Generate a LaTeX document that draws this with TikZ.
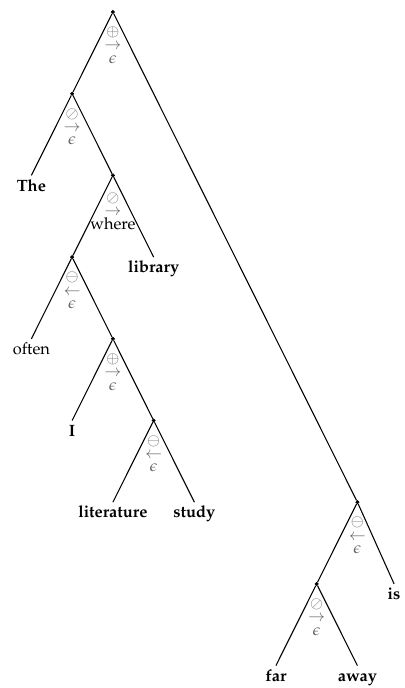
\documentclass[tikz,border=0pt]{standalone}
\usepackage[T1]{fontenc}
\usepackage{mathpazo}
\usepackage{amsmath, amssymb}
\usepackage{tikz}
\usetikzlibrary{positioning}
\tikzstyle{vertex} = [draw=black, fill=black, inner sep=0.9pt, circle]
\tikzstyle{edge} = [black, line width=0.8pt]
\tikzstyle{leaf} = [anchor=north, inner sep=2.5pt, text height=9pt, text depth=2.5pt, font=\fontsize{12.3}{14}\selectfont]
\tikzstyle{oplabel} = [inner sep=0pt, align=center, text=black!60, font=\fontsize{12}{10}\selectfont]

\begin{document}
\begin{tikzpicture}[x=1.075cm, y=2.155cm]

\useasboundingbox (-2.77,0.147) rectangle (7.157,-8.274);

\node[vertex] (1) at (0,0) {};
\node[vertex] (2) at (-1,-1) {};
\node[vertex] (3) at (0,-2) {};
\node[vertex] (4) at (-1,-3) {};
\node[vertex] (5) at (0,-4) {};
\node[vertex] (6) at (1,-5) {};
\node[vertex] (7) at (6,-6) {};
\node[vertex] (8) at (5,-7) {};

\node[oplabel, below=9.5pt of 1] (1l) {$\oplus$\\$\rightarrow$\\$\epsilon$};
\node[oplabel, below=9.5pt of 2] (2l) {$\oslash$\\$\rightarrow$\\$\epsilon$};
\node[oplabel, below=11.5pt of 3] (3l) {$\oslash$\\$\rightarrow$\\\textcolor{black}{\fontsize{12.3}{12}\selectfont where}};
\node[oplabel, below=9.5pt of 4] (4l) {$\ominus$\\$\leftarrow$\\$\epsilon$};
\node[oplabel, below=9.5pt of 5] (5l) {$\oplus$\\$\rightarrow$\\$\epsilon$};
\node[oplabel, below=9.5pt of 6] (6l) {$\ominus$\\$\leftarrow$\\$\epsilon$};
\node[oplabel, below=9.5pt of 7] (7l) {$\ominus$\\$\leftarrow$\\$\epsilon$};
\node[oplabel, below=9.5pt of 8] (8l) {$\oslash$\\$\rightarrow$\\$\epsilon$};

\node[leaf] (the) at (-2,-2) {\textbf{The}};
\node[leaf] (library) at (1,-3) {\textbf{library}};
\node[leaf] (often) at (-2,-4) {often};
\node[leaf] (i) at (-1,-5) {\textbf{I}};
\node[leaf] (literature) at (0,-6) {\textbf{literature}};
\node[leaf] (study) at (2,-6) {\textbf{study}};
\node[leaf] (is) at (6.9,-7) {\textbf{is}};
\node[leaf] (far) at (4,-8) {\textbf{far}};
\node[leaf] (away) at (6,-8) {\textbf{away}};

\draw[edge] (1) to (2);
\draw[edge] (1) to (7);
\draw[edge] (2) to (the.north);
\draw[edge] (2) to (3);
\draw[edge] (3) to (4);
\draw[edge] (3) to (library.north);
\draw[edge] (4) to (often.north);
\draw[edge] (4) to (5);
\draw[edge] (5) to (i.north);
\draw[edge] (5) to (6);
\draw[edge] (6) to (literature.north);
\draw[edge] (6) to (study.north);
\draw[edge] (7) to (8);
\draw[edge] (7) to (is.north);
\draw[edge] (8) to (far.north);
\draw[edge] (8) to (away.north);

\end{tikzpicture}
\end{document}
